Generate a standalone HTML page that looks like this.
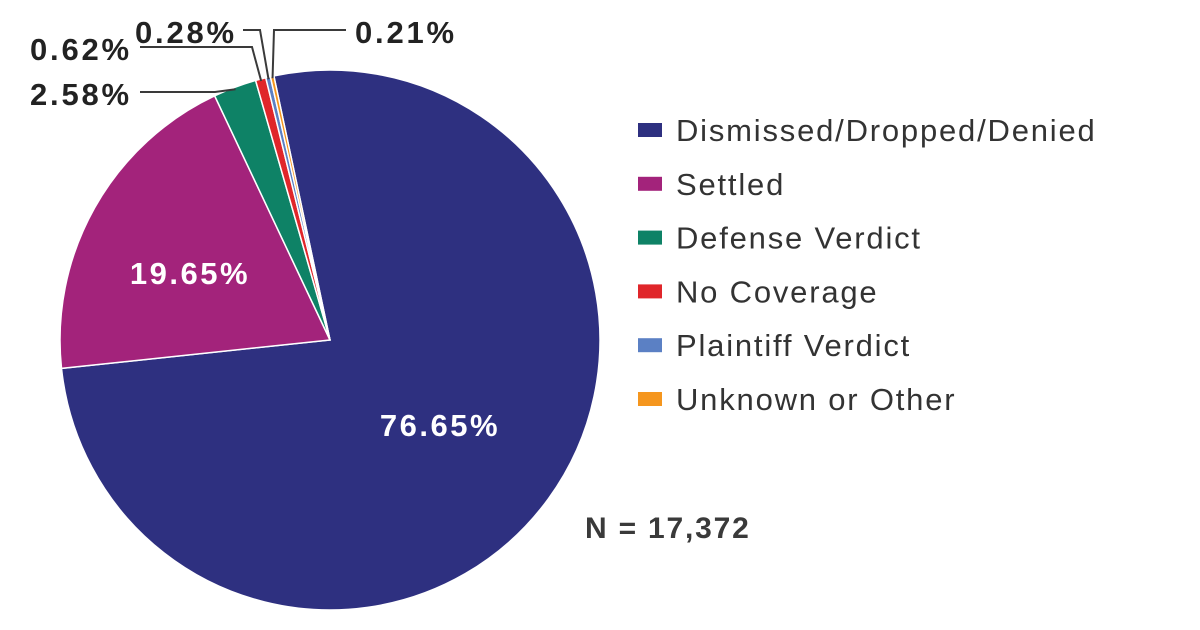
<!DOCTYPE html>
<html><head><meta charset="utf-8"><style>
html,body{margin:0;padding:0;background:#fff;}
svg{display:block;font-family:"Liberation Sans",sans-serif;}
</style></head><body>
<svg id="chart" width="1200" height="630" viewBox="0 0 1200 630">
<g id="slices"></g>
<g id="labels"></g>
<g id="legend"></g>
<text x="585" y="538" font-size="30" font-weight="bold" letter-spacing="1.8" fill="#3a3a3a">N = 17,372</text>
</svg>
<script>
const categories = ["Dismissed/Dropped/Denied","Settled","Defense Verdict","No Coverage","Plaintiff Verdict","Unknown or Other"];
const values = [76.65,19.65,2.58,0.62,0.28,0.21];
const valueLabels = ["76.65%","19.65%","2.58%","0.62%","0.28%","0.21%"];
const colors = ["#2e3080","#a3237b","#0e8266","#e0262a","#5b80c4","#f5961e"];
const NS="http://www.w3.org/2000/svg";
const cx=330, cy=340, r=270, startDeg=-12;
const total=values.reduce((a,b)=>a+b,0);
function pt(deg,rad){const a=deg*Math.PI/180;return [cx+rad*Math.sin(a), cy-rad*Math.cos(a)];}
function mk(tag,attrs,parent){const e=document.createElementNS(NS,tag);for(const k in attrs)e.setAttribute(k,attrs[k]);parent.appendChild(e);return e;}
const gS=document.getElementById('slices'), gL=document.getElementById('labels'), gG=document.getElementById('legend');
let ang=startDeg; const mids=[];
values.forEach((v,i)=>{
  const sweep=v/total*360, a0=ang, a1=ang+sweep;
  const p0=pt(a0,r), p1=pt(a1,r);
  const p=mk('path',{d:`M${cx},${cy}L${p0[0]},${p0[1]}A${r},${r} 0 ${sweep>180?1:0} 1 ${p1[0]},${p1[1]}Z`,fill:colors[i],stroke:'#fff','stroke-width':1.5},gS);
  
  
  mids.push([a0,a1]); ang=a1;
});
[[0,440,436],[1,190,284]].forEach(([i,x,y])=>{
  const t=mk('text',{x:x,y:y,'text-anchor':'middle','font-size':31,'font-weight':'bold','letter-spacing':2.5,fill:'#fff'},gL);
  t.textContent=valueLabels[i];
  
  
});
const outs=[[2,30,105,140,92,215],[3,30,60,140,47,252],[4,135,43,243,30,260],[5,355,43,346,30,274]];
outs.forEach(([i,x,y,lx,ly,kx])=>{
  const m=(mids[i][0]+mids[i][1])/2; const e=pt(m,r-2);
  const pl=mk('polyline',{points:`${lx},${ly} ${kx},${ly} ${e[0]},${e[1]}`,fill:'none',stroke:'#3a3a3a','stroke-width':2},gL);
  
  
  const t=mk('text',{x:x,y:y,'font-size':31,'font-weight':'bold','letter-spacing':2.8,fill:'#222'},gL);
  t.textContent=valueLabels[i];
  
  
});
categories.forEach((c,i)=>{
  const y=130+i*53.8;
  const s=mk('rect',{x:638,y:y-7,width:24,height:14,fill:colors[i]},gG);
  
  
  const t=mk('text',{x:676,y:y+11,'font-size':31,'letter-spacing':1.8,fill:'#333'},gG);
  t.textContent=c;
  
  
});
</script>
</body></html>
